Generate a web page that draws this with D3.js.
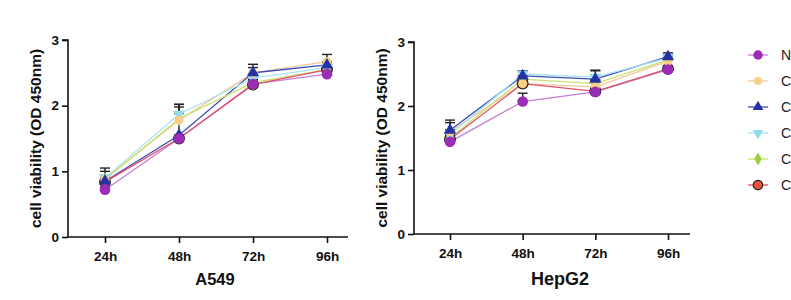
<!DOCTYPE html>
<html>
<head>
<meta charset="utf-8">
<script src="https://cdn.jsdelivr.net/npm/d3@7"></script>
<style>
  body { margin: 0; background: #fff; }
  svg { display: block; font-family: "Liberation Sans", Arial, sans-serif; }
  .axis path, .axis line { stroke: #111; stroke-width: 1.6px; }
  .axis text { font-size: 13.5px; font-weight: bold; fill: #111; }
</style>
</head>
<body>
<div id="chart"></div>
<script>
// Set up conventions
let width = 791;
let height = 300;

let times = ["24h", "48h", "72h", "96h"];
let groups = ["N", "C", "C", "C", "C", "C"];
let yTicks = [0, 1, 2, 3];

// A549 means and upper error per group
let a549_nc = [0.72, 1.50, 2.33, 2.48];
let a549_c1 = [0.88, 1.78, 2.50, 2.67];
let a549_c2 = [0.85, 1.55, 2.50, 2.62];
let a549_c3 = [0.90, 1.87, 2.42, 2.58];
let a549_c4 = [0.88, 1.80, 2.35, 2.55];
let a549_c5 = [0.84, 1.50, 2.32, 2.55];
let a549_sd_nc = [0.04, 0.04, 0.04, 0.04];
let a549_sd_c1 = [0.05, 0.20, 0.13, 0.11];
let a549_sd_c2 = [0.20, 0.47, 0.08, 0.05];
let a549_sd_c3 = [0.10, 0.15, 0.06, 0.05];
let a549_sd_c4 = [0.05, 0.08, 0.05, 0.05];
let a549_sd_c5 = [0.05, 0.05, 0.05, 0.05];

// HepG2 means and upper error per group
let hep_nc = [1.44, 2.07, 2.22, 2.57];
let hep_c1 = [1.60, 2.35, 2.30, 2.70];
let hep_c2 = [1.62, 2.47, 2.42, 2.77];
let hep_c3 = [1.55, 2.50, 2.45, 2.75];
let hep_c4 = [1.50, 2.42, 2.35, 2.72];
let hep_c5 = [1.48, 2.35, 2.23, 2.58];
let hep_sd_nc = [0.05, 0.13, 0.05, 0.05];
let hep_sd_c1 = [0.18, 0.06, 0.10, 0.05];
let hep_sd_c2 = [0.12, 0.08, 0.14, 0.06];
let hep_sd_c3 = [0.08, 0.05, 0.10, 0.04];
let hep_sd_c4 = [0.05, 0.05, 0.06, 0.04];
let hep_sd_c5 = [0.05, 0.05, 0.05, 0.05];

let colors = ["#9a2cb8", "#f7cf86", "#2432a6", "#8fdcec", "#9ccf3a", "#e4553a"];
let lineColors = ["#c47fd2", "#f3c79a", "#3a4cb4", "#a9e4f0", "#c7e470", "#e0506a"];
let shapes = [d3.symbolCircle, d3.symbolCircle, d3.symbolTriangle, d3.symbolTriangle, d3.symbolDiamond, d3.symbolCircle];

let svg = d3.select("#chart")
    .append("svg")
    .attr("width", width)
    .attr("height", height);

function marker(g, i, x, y, size) {
    let p = g.append("path")
        .attr("d", d3.symbol().type(shapes[i]).size(size)())
        .attr("transform", "translate(" + x + "," + y + ")" + (i == 3 ? " rotate(180)" : ""))
        .attr("fill", colors[i]);
    if (i == 5) p.attr("stroke", "#222").attr("stroke-width", 1.2);
}

function panel(opts) {
    let xScale = d3.scalePoint().domain(times).range([opts.x0, opts.x1]);
    let yScale = d3.scaleLinear().domain([0, 3]).range([opts.yb, opts.yt]);
    let g = svg.append("g");

    // x axis
    let xa = g.append("g")
        .attr("class", "axis")
        .attr("transform", "translate(0," + opts.yb + ")")
        .call(d3.axisBottom(xScale).tickSize(6).tickSizeOuter(0));
    xa.select(".domain").remove();
    xa.append("line")
        .attr("x1", opts.ax0).attr("x2", opts.ax1)
        .attr("stroke", "#111").attr("stroke-width", 1.6);
    xa.selectAll("text").attr("dy", "1.1em");

    // y axis
    let ya = g.append("g")
        .attr("class", "axis")
        .attr("transform", "translate(" + opts.ax0 + ",0)")
        .call(d3.axisLeft(yScale).tickValues(yTicks).tickFormat(d3.format("d")).tickSize(6).tickSizeOuter(0));
    ya.select(".domain").attr("d", "M0," + opts.yb + "V" + opts.yt + "H-6");

    // y title
    g.append("text")
        .attr("transform", "translate(" + opts.ytx + "," + ((opts.yt + opts.yb) / 2) + ") rotate(-90)")
        .attr("text-anchor", "middle")
        .attr("font-size", 15.5)
        .attr("font-weight", "bold")
        .attr("fill", "#111")
        .text("cell viability (OD 450nm)");

    // panel title
    g.append("text")
        .attr("x", opts.tx)
        .attr("y", 285)
        .attr("text-anchor", "middle")
        .attr("font-size", opts.tsize)
        .attr("font-weight", "bold")
        .attr("fill", "#111")
        .text(opts.title);

    let line = d3.line()
        .x((d, i) => xScale(times[i]))
        .y(d => yScale(d));

    // lines
    opts.series.forEach((s, i) => {
        g.append("path")
            .datum(s)
            .attr("d", line)
            .attr("fill", "none")
            .attr("stroke", lineColors[i])
            .attr("stroke-width", 1.3);
    });

    // error bars
    opts.series.forEach((s, i) => {
        s.forEach((v, j) => {
            let x = xScale(times[j]);
            let top = yScale(v + opts.sd[i][j]);
            g.append("line")
                .attr("x1", x).attr("x2", x)
                .attr("y1", yScale(v)).attr("y2", top)
                .attr("stroke", "#222").attr("stroke-width", 1.4);
            g.append("line")
                .attr("x1", x - 5).attr("x2", x + 5)
                .attr("y1", top).attr("y2", top)
                .attr("stroke", "#222").attr("stroke-width", 1.4);
        });
    });

    // markers, NC drawn last so it sits on top
    [5, 4, 3, 1, 2, 0].forEach(i => {
        opts.series[i].forEach((v, j) => {
            marker(g, i, xScale(times[j]), yScale(v), i == 0 || i == 5 ? 90 : 65);
        });
    });
}

panel({
    title: "A549", tx: 215, tsize: 16.5,
    x0: 105, x1: 327, ax0: 68, ax1: 348,
    yb: 237, yt: 40, ytx: 41,
    series: [a549_nc, a549_c1, a549_c2, a549_c3, a549_c4, a549_c5],
    sd: [a549_sd_nc, a549_sd_c1, a549_sd_c2, a549_sd_c3, a549_sd_c4, a549_sd_c5]
});

panel({
    title: "HepG2", tx: 560, tsize: 18,
    x0: 450, x1: 668, ax0: 414, ax1: 690,
    yb: 234, yt: 42, ytx: 387,
    series: [hep_nc, hep_c1, hep_c2, hep_c3, hep_c4, hep_c5],
    sd: [hep_sd_nc, hep_sd_c1, hep_sd_c2, hep_sd_c3, hep_sd_c4, hep_sd_c5]
});

// Legend
let legend = svg.append("g").attr("transform", "translate(758,55)");
groups.forEach((name, i) => {
    let row = legend.append("g").attr("transform", "translate(0," + (i * 26) + ")");
    row.append("line")
        .attr("x1", -10).attr("x2", 10)
        .attr("stroke", lineColors[i]).attr("stroke-width", 1.3);
    marker(row, i, 0, 0, i == 0 || i == 5 ? 70 : 50);
    row.append("text")
        .attr("x", 23)
        .attr("y", 5)
        .attr("font-size", 14)
        .attr("fill", "#222")
        .text(name);
});
</script>
</body>
</html>
